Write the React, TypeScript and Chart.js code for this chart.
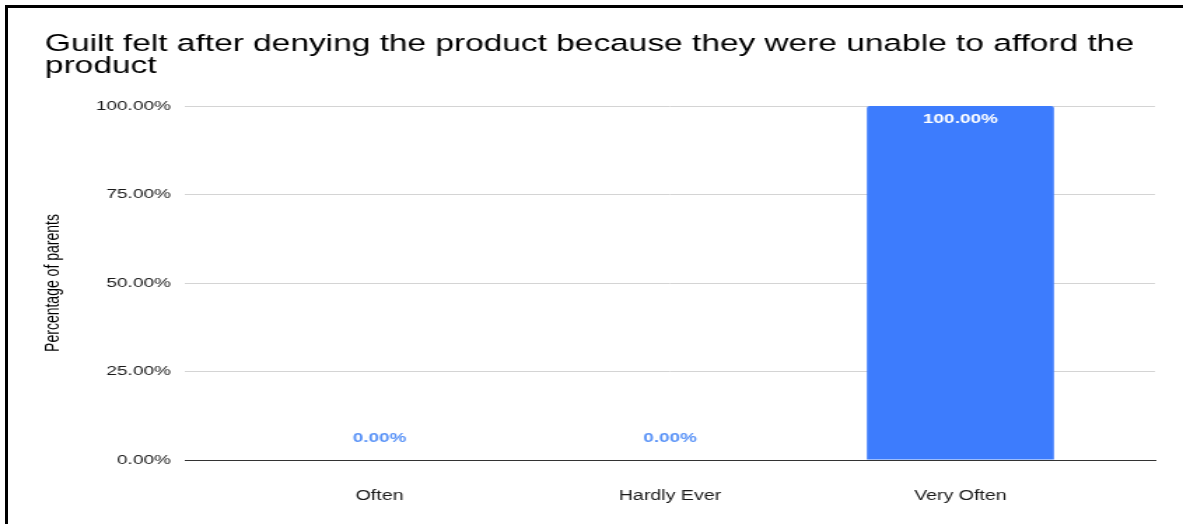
import React, { useEffect, useRef } from "react";
import { Chart, registerables } from "chart.js";

Chart.register(...registerables);

const titleLines = [
  "Guilt felt after denying the product because they were unable to afford the",
  "product",
];
const categories = ["Often", "Hardly Ever", "Very Often"];
const values = [0, 0, 1];
const yTicks = [0, 0.25, 0.5, 0.75, 1];
const yAxisTitle = "Percentage of parents";

const SX = 1.4;
const PAGE_W = 1183;
const PAGE_H = 524;
const CANVAS_W = Math.round(PAGE_W / SX);
const FONT = "'Liberation Sans', Arial, Helvetica, sans-serif";

const fmt = (v: number) => (v * 100).toFixed(2) + "%";

const dataLabelPlugin = {
  id: "dataLabels",
  afterDatasetsDraw(chart: any) {
    const ctx = chart.ctx;
    const meta = chart.getDatasetMeta(0);
    ctx.save();
    ctx.textAlign = "center";
    ctx.textBaseline = "middle";
    ctx.font = `bold 13.5px ${FONT}`;
    meta.data.forEach((el: any, i: number) => {
      const v = values[i];
      if (v > 0) {
        ctx.fillStyle = "#ffffff";
        ctx.fillText(fmt(v), el.x, el.y + 13);
      } else {
        ctx.fillStyle = "#5a93f7";
        ctx.fillText(fmt(v), el.x, el.y - 22);
      }
    });
    ctx.restore();
  },
};

export default function App() {
  const ref = useRef<HTMLCanvasElement | null>(null);

  useEffect(() => {
    if (!ref.current) return;
    const chart = new Chart(ref.current, {
      type: "bar",
      data: {
        datasets: [
          {
            data: values.map((v, i) => ({ x: i, y: v })),
            backgroundColor: "#3d7cfd",
            borderRadius: { topLeft: 2, topRight: 2, bottomLeft: 0, bottomRight: 0 },
            borderSkipped: "start",
            categoryPercentage: 1,
            barPercentage: 0.644,
          },
        ],
      },
      options: {
        animation: false,
        responsive: false,
        devicePixelRatio: 1,
        layout: { padding: { left: 32.1, right: 20, top: 0, bottom: 0 } },
        plugins: {
          legend: { display: false },
          tooltip: { enabled: false },
          title: {
            display: true,
            text: titleLines,
            align: "start",
            color: "#000",
            font: { family: FONT, size: 23.9, weight: "normal", lineHeight: "21.5px" },
            padding: { top: 34, bottom: 29 },
          },
        },
        scales: {
          x: {
            type: "linear",
            offset: false,
            min: -0.67,
            max: 2.67,
            afterBuildTicks: (scale: any) => {
              scale.ticks = categories.map((_, i) => ({ value: i }));
            },
            afterFit: (scale: any) => {
              scale.height = 64;
            },
            ticks: {
              autoSkip: false,
              maxRotation: 0,
              minRotation: 0,
              padding: 28,
              color: "#1a1a1a",
              font: { family: FONT, size: 14 },
              callback: (v: any) => categories[v] ?? "",
            },
            grid: { display: false, drawTicks: false, offset: false },
            border: { display: true, color: "#333", width: 1 },
          },
          y: {
            min: 0,
            max: 1,
            afterBuildTicks: (scale: any) => {
              scale.ticks = yTicks.map((v) => ({ value: v }));
            },
            afterFit: (scale: any) => {
              scale.width = 100;
            },
            ticks: {
              padding: 10,
              color: "#1a1a1a",
              font: { family: FONT, size: 13.6 },
              callback: (v: any) => fmt(Number(v)),
            },
            grid: {
              drawTicks: false,
              color: (c: any) => (c.tick && c.tick.value === 0 ? "#333" : "#d4d4d4"),
              lineWidth: 1,
            },
            border: { display: false },
            title: {
              display: true,
              text: yAxisTitle,
              color: "#000",
              font: { family: FONT, size: 14 },
              padding: { top: -1.9, bottom: 0 },
            },
          },
        },
      },
      plugins: [dataLabelPlugin],
    });
    return () => chart.destroy();
  }, []);

  return (
    <div
      style={{
        position: "fixed",
        left: 0,
        top: 0,
        width: PAGE_W,
        height: PAGE_H,
        background: "#fff",
        overflow: "hidden",
      }}
    >
      <div
        style={{
          position: "absolute",
          left: 5,
          top: 5,
          right: 0,
          bottom: 0,
          borderTop: "3px solid #000",
          borderLeft: "3px solid #000",
        }}
      />
      <div
        style={{
          position: "absolute",
          left: 0,
          top: 0,
          width: CANVAS_W,
          height: PAGE_H,
          transform: `scaleX(${PAGE_W / CANVAS_W})`,
          transformOrigin: "0 0",
        }}
      >
        <canvas ref={ref} width={CANVAS_W} height={PAGE_H} style={{ display: "block" }} />
      </div>
    </div>
  );
}
